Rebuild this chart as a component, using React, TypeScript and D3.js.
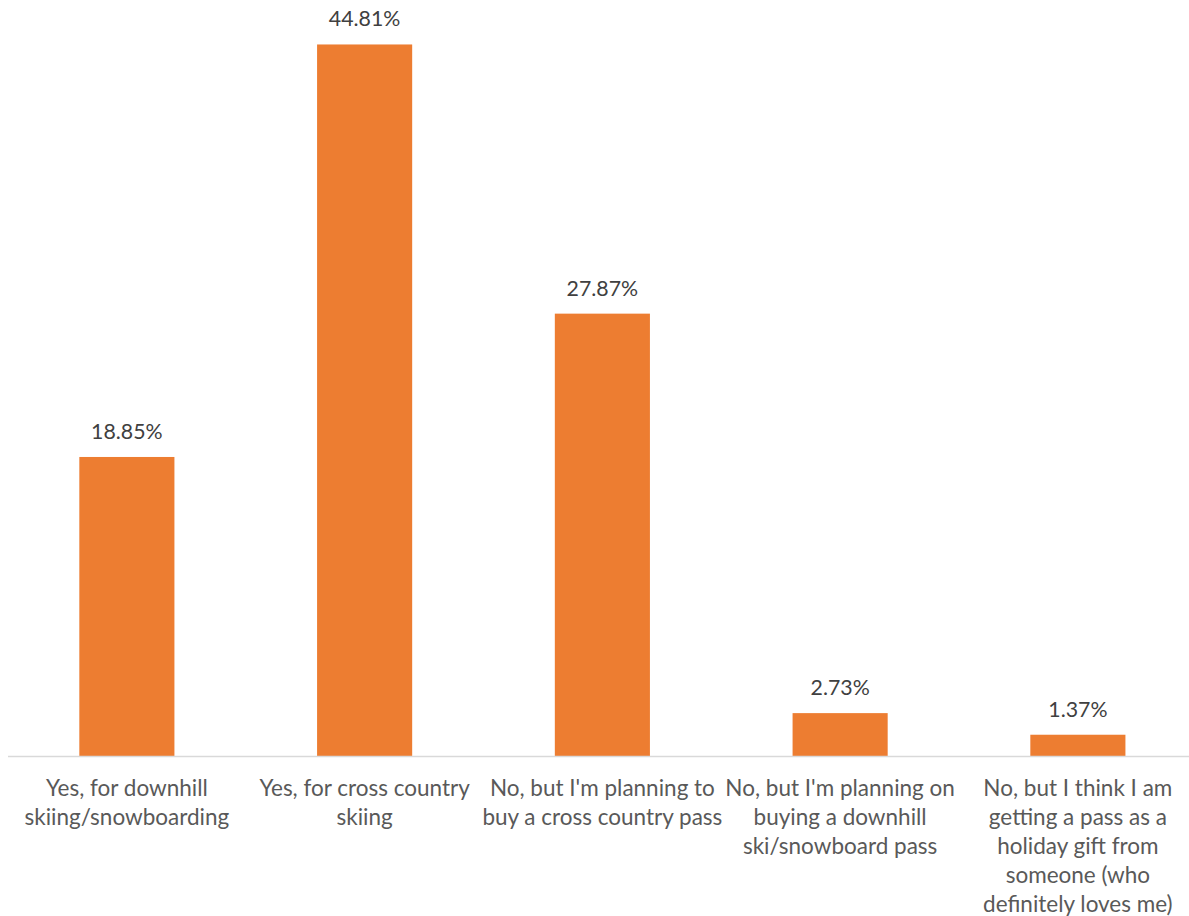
import React from "react";
import * as d3 from "d3";

const categories: string[][] = [
  ["Yes, for downhill", "skiing/snowboarding"],
  ["Yes, for cross country", "skiing"],
  ["No, but I'm planning to", "buy a cross country pass"],
  ["No, but I'm planning on", "buying a downhill", "ski/snowboard pass"],
  ["No, but I think I am", "getting a pass as a", "holiday gift from", "someone (who", "definitely loves me)"],
];
const values: number[] = [18.85, 44.81, 27.87, 2.73, 1.37];
const valueLabels: string[] = ["18.85%", "44.81%", "27.87%", "2.73%", "1.37%"];

const W = 1189;
const H = 916;
const FONT = "Lato, 'Noto Sans', sans-serif";

export default function App() {
  const baseline = 756.5;
  const x = d3
    .scaleBand<number>()
    .domain(values.map((_, i) => i))
    .range([8, 1196.75])
    .paddingInner(0.6)
    .paddingOuter(0.3);
  const y = d3.scaleLinear().domain([0, 50]).range([baseline, baseline - 794.5]);

  return (
    <svg
      width={W}
      height={H}
      style={{ position: "absolute", left: 0, top: 0, background: "#fff" }}
      fontFamily={FONT}
    >
      {values.map((v, i) => (
        <rect
          key={i}
          x={x(i)}
          y={y(v)}
          width={x.bandwidth()}
          height={baseline - y(v)}
          fill="#ED7D31"
        />
      ))}
      <line x1={8} x2={W} y1={baseline} y2={baseline} stroke="#D9D9D9" strokeWidth={1.5} />
      {values.map((v, i) => (
        <text
          key={"v" + i}
          x={(x(i) as number) + x.bandwidth() / 2}
          y={y(v) - 18}
          textAnchor="middle"
          fontSize={21.3}
          fill="#404040"
        >
          {valueLabels[i]}
        </text>
      ))}
      {categories.map((lines, i) => (
        <text
          key={"c" + i}
          x={(x(i) as number) + x.bandwidth() / 2}
          y={796}
          textAnchor="middle"
          fontSize={22.5}
          fill="#595959"
        >
          {lines.map((l, j) => (
            <tspan key={j} x={(x(i) as number) + x.bandwidth() / 2} y={796 + j * 29}>
              {l}
            </tspan>
          ))}
        </text>
      ))}
    </svg>
  );
}
